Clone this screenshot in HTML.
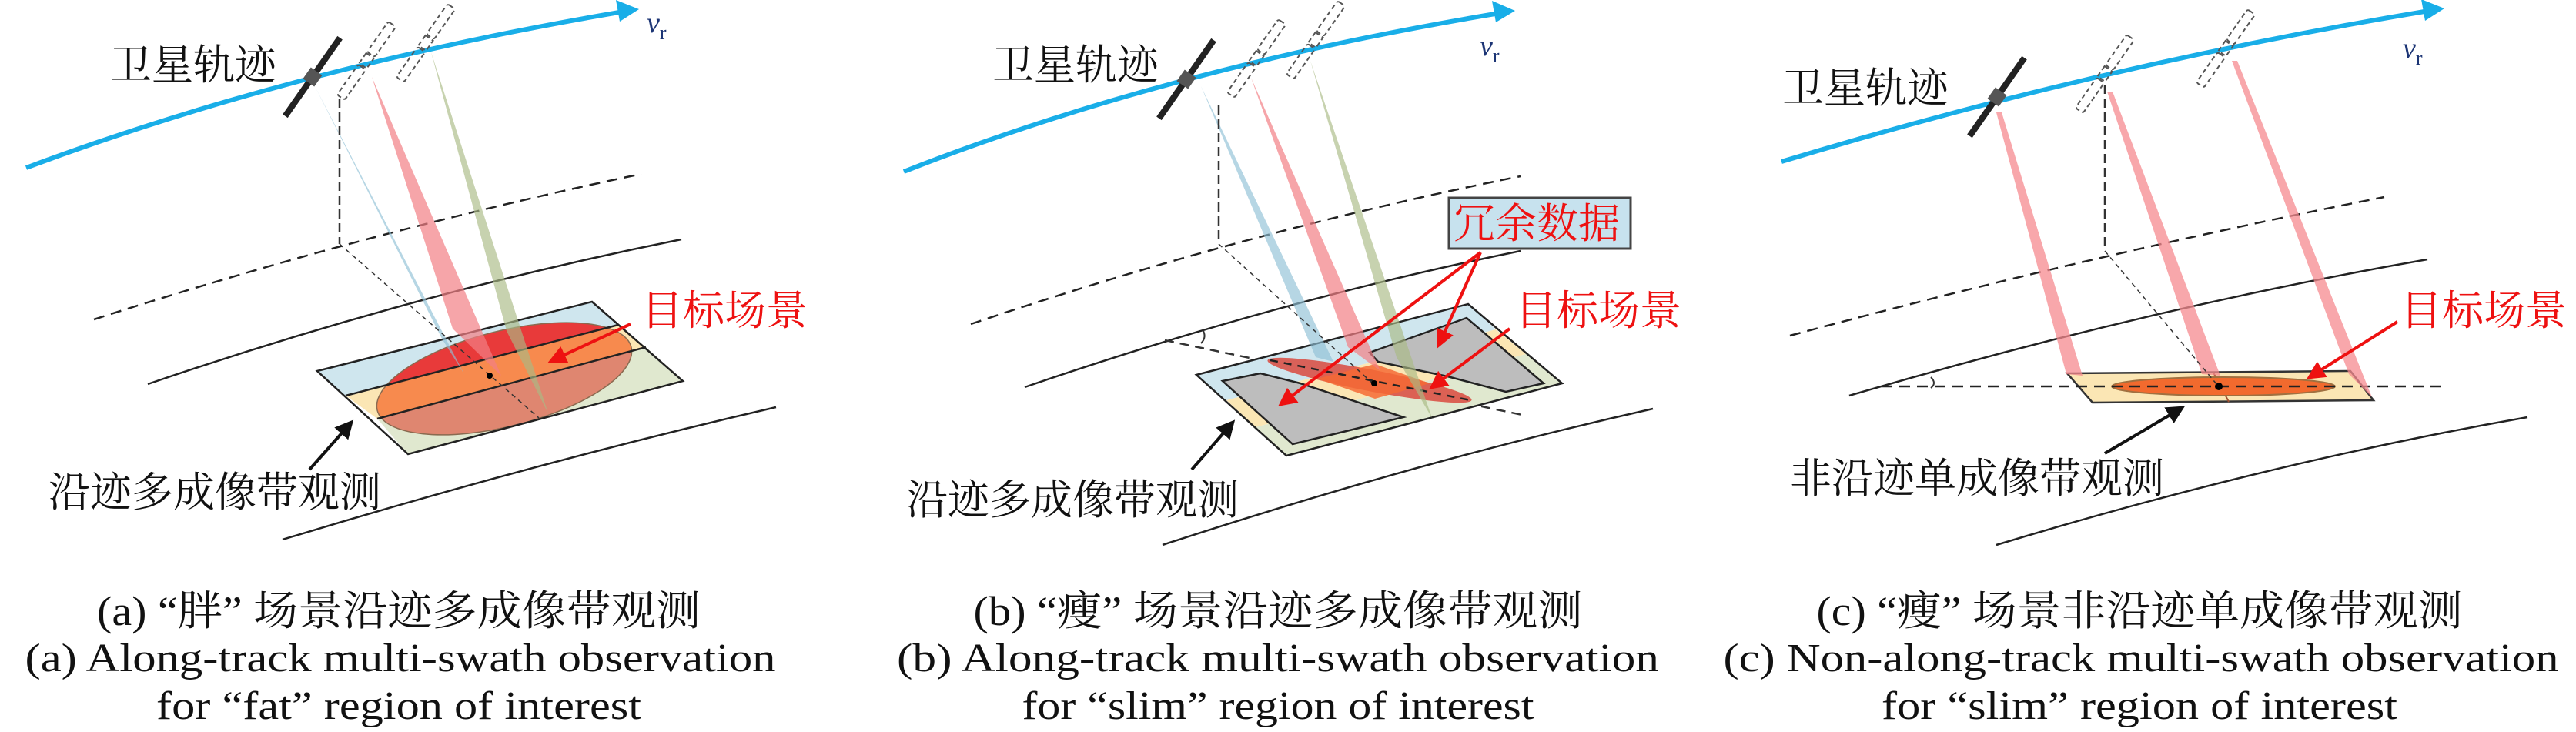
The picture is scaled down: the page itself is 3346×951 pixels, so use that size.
<!DOCTYPE html>
<html><head><meta charset="utf-8"><style>
html,body{margin:0;padding:0;background:#fff;}
svg{display:block;}
.cj{font-family:"Liberation Serif","Noto Serif CJK SC",serif;}
.en{font-family:"Liberation Serif",serif;}
</style></head><body>
<svg width="3346" height="951" viewBox="0 0 3346 951" xmlns="http://www.w3.org/2000/svg">
<defs>
<marker id="ar" viewBox="0 0 10 10" refX="8" refY="5" markerWidth="6" markerHeight="6" orient="auto"><path d="M0,0 L10,5 L0,10 z" fill="#ee1111"/></marker>
<marker id="ak" viewBox="0 0 10 10" refX="8" refY="5" markerWidth="6" markerHeight="6" orient="auto"><path d="M0,0 L10,5 L0,10 z" fill="#111"/></marker>
<clipPath id="ta"><polygon points="412,482 769,392 803,422 449,514"/></clipPath>
<clipPath id="ma"><polygon points="449,514 803,422 839,451 490,544"/></clipPath>
<clipPath id="ba"><polygon points="490,544 839,451 887,495 530,590"/></clipPath>
<g id="sat"><rect x="-4" y="-62" width="8" height="124" fill="#222"/><rect x="-9" y="-9" width="18" height="18" fill="#555"/></g>
<g id="dsat" fill="none" stroke="#555" stroke-width="2" stroke-dasharray="6,4"><rect x="-6" y="-58" width="12" height="48" rx="3"/><rect x="-6" y="10" width="12" height="48" rx="3"/><rect x="-6" y="-8" width="12" height="16"/></g>
</defs>

<!-- ============ PANEL A ============ -->
<g>
<path d="M122,415 Q480,300 833,226" fill="none" stroke="#222" stroke-width="2.5" stroke-dasharray="14,9"/>
<path d="M192,499 Q540,380 885,311" fill="none" stroke="#222" stroke-width="2.5"/>
<path d="M367,701 Q700,600 1008,529" fill="none" stroke="#222" stroke-width="2.5"/>
<polygon points="412,482 769,392 803,422 449,514" fill="#cfe6ee"/>
<polygon points="449,514 803,422 839,451 490,544" fill="#fbe6b4"/>
<polygon points="490,544 839,451 887,495 530,590" fill="#e0e8cf"/>
<g clip-path="url(#ta)"><ellipse cx="655" cy="492" rx="170" ry="62" transform="rotate(-14 655 492)" fill="#e83a3a"/></g>
<g clip-path="url(#ma)"><ellipse cx="655" cy="492" rx="170" ry="62" transform="rotate(-14 655 492)" fill="#f78a4e"/></g>
<g clip-path="url(#ba)"><ellipse cx="655" cy="492" rx="170" ry="62" transform="rotate(-14 655 492)" fill="#df8670"/></g>
<ellipse cx="655" cy="492" rx="170" ry="62" transform="rotate(-14 655 492)" fill="none" stroke="#8a6a50" stroke-width="1.5"/>
<polygon points="412,482 769,392 887,495 530,590" fill="none" stroke="#222" stroke-width="2.5"/>
<line x1="449" y1="514" x2="803" y2="422" stroke="#222" stroke-width="2.5"/>
<line x1="490" y1="544" x2="839" y2="451" stroke="#222" stroke-width="2.5"/>
<polygon points="410,114 574,440 603,486" fill="#8fc0d6" opacity="0.65"/>
<polygon points="483,100 588,427 651,488" fill="#f27f84" opacity="0.7"/>
<polygon points="560,68 658,430 712,537" fill="#a9ba84" opacity="0.65"/>
<line x1="441" y1="128" x2="441" y2="317" stroke="#333" stroke-width="2.5" stroke-dasharray="12,6"/>
<line x1="441" y1="317" x2="700" y2="543" stroke="#333" stroke-width="1.5" stroke-dasharray="6,5"/>
<circle cx="636" cy="488" r="4" fill="#000"/>
<path d="M34,218 Q384,87 810,15" fill="none" stroke="#19aee8" stroke-width="6"/>
<polygon points="830,12 800,0 805,28" fill="#19aee8"/>
<use href="#sat" transform="translate(406,100) rotate(35)"/>
<use href="#dsat" transform="translate(476,79) rotate(35)"/>
<use href="#dsat" transform="translate(553,56) rotate(35)"/>
<text x="840" y="42" class="en" font-size="38" font-style="italic" fill="#1c3575">v<tspan font-size="26" font-style="normal" dy="9">r</tspan></text>
<text x="143" y="103" class="cj" font-size="54" fill="#111">卫星轨迹</text>
<text x="833" y="422" class="cj" font-size="54" fill="#ee1111">目标场景</text>
<line x1="819" y1="421" x2="716" y2="469" stroke="#ee1111" stroke-width="4" marker-end="url(#ar)"/>
<text x="63" y="658" class="cj" font-size="54" fill="#111">沿迹多成像带观测</text>
<line x1="402" y1="610" x2="456" y2="549" stroke="#111" stroke-width="4" marker-end="url(#ak)"/>
</g>

<!-- ============ PANEL B ============ -->
<g>
<path d="M1261,421 Q1620,300 1975,229" fill="none" stroke="#222" stroke-width="2.5" stroke-dasharray="14,9"/>
<path d="M1331,503 Q1660,390 1975,326" fill="none" stroke="#222" stroke-width="2.5"/>
<path d="M1510,708 Q1840,600 2147,531" fill="none" stroke="#222" stroke-width="2.5"/>
<line x1="1513" y1="442" x2="1982" y2="540" stroke="#333" stroke-width="2.5" stroke-dasharray="12,8"/>
<path d="M1562,428 Q1568,438 1560,446" fill="none" stroke="#333" stroke-width="2"/>
<polygon points="1554,487 1907,395 1943,428 1593,520" fill="#cfe6ee"/>
<polygon points="1593,520 1943,428 1982,460 1631,555" fill="#fbe6b4"/>
<polygon points="1631,555 1982,460 2029,498 1671,592" fill="#e0e8cf"/>
<polygon points="1588,495 1637,485 1689,498 1823,542 1679,577" fill="#bdbdbd" stroke="#222" stroke-width="2.5"/>
<polygon points="1779,458 1905,413 2005,498 1956,509 1880,489 1790,470" fill="#bdbdbd" stroke="#222" stroke-width="2.5"/>
<polygon points="1711,492 1786,473 1857,498 1786,518" fill="#fbe6b4"/>
<ellipse cx="1779" cy="494" rx="135" ry="14" transform="rotate(11 1779 494)" fill="#d9493e" opacity="0.85"/>
<polygon points="1711,492 1786,473 1857,498 1786,518" fill="#f56a35" opacity="0.85"/>
<line x1="1650" y1="468" x2="1910" y2="520" stroke="#222" stroke-width="2.5" stroke-dasharray="10,8"/>
<polygon points="1554,487 1907,395 2029,498 1671,592" fill="none" stroke="#222" stroke-width="2.5"/>
<polygon points="1560,112 1709,464 1732,470" fill="#8fc0d6" opacity="0.65"/>
<polygon points="1625,101 1751,451 1793,482" fill="#f27f84" opacity="0.7"/>
<polygon points="1702,79 1814,464 1860,543" fill="#a9ba84" opacity="0.65"/>
<line x1="1583" y1="137" x2="1583" y2="317" stroke="#333" stroke-width="2.5" stroke-dasharray="12,6"/>
<line x1="1583" y1="317" x2="1783" y2="498" stroke="#333" stroke-width="1.5" stroke-dasharray="6,5"/>
<circle cx="1785" cy="498" r="4" fill="#000"/>
<path d="M1174,223 Q1514,89 1948,17" fill="none" stroke="#19aee8" stroke-width="6"/>
<polygon points="1968,14 1938,1 1943,29" fill="#19aee8"/>
<use href="#sat" transform="translate(1541,103) rotate(35)"/>
<use href="#dsat" transform="translate(1632,76) rotate(35)"/>
<use href="#dsat" transform="translate(1709,52) rotate(35)"/>
<text x="1922" y="72" class="en" font-size="38" font-style="italic" fill="#1c3575">v<tspan font-size="26" font-style="normal" dy="9">r</tspan></text>
<text x="1289" y="103" class="cj" font-size="54" fill="#111">卫星轨迹</text>
<rect x="1882" y="257" width="236" height="66" fill="#c7e2ee" stroke="#444" stroke-width="3"/>
<text x="1888" y="309" class="cj" font-size="54" fill="#ee1111">冗余数据</text>
<text x="1968" y="422" class="cj" font-size="54" fill="#ee1111">目标场景</text>
<line x1="1923" y1="328" x2="1664" y2="525" stroke="#ee1111" stroke-width="4" marker-end="url(#ar)"/>
<line x1="1923" y1="328" x2="1869" y2="448" stroke="#ee1111" stroke-width="4" marker-end="url(#ar)"/>
<line x1="1961" y1="427" x2="1860" y2="503" stroke="#ee1111" stroke-width="4" marker-end="url(#ar)"/>
<text x="1177" y="668" class="cj" font-size="54" fill="#111">沿迹多成像带观测</text>
<line x1="1548" y1="610" x2="1601" y2="549" stroke="#111" stroke-width="4" marker-end="url(#ak)"/>
</g>

<!-- ============ PANEL C ============ -->
<g>
<path d="M2325,436 Q2720,330 3097,256" fill="none" stroke="#222" stroke-width="2.5" stroke-dasharray="14,9"/>
<path d="M2402,514 Q2790,400 3153,337" fill="none" stroke="#222" stroke-width="2.5"/>
<path d="M2593,708 Q2950,600 3283,542" fill="none" stroke="#222" stroke-width="2.5"/>
<path d="M2508,490 Q2516,498 2508,504" fill="none" stroke="#333" stroke-width="2"/>
<polygon points="2685,485 3053,482 3083,520 2718,523" fill="#fbe6b4" stroke="#333" stroke-width="2.5"/>
<line x1="2875" y1="484" x2="2895" y2="522" stroke="#a05030" stroke-width="2"/>
<ellipse cx="2888" cy="502" rx="145" ry="12" fill="#f26a2e" stroke="#a07040" stroke-width="2"/>
<line x1="2444" y1="502" x2="3171" y2="502" stroke="#222" stroke-width="2.5" stroke-dasharray="14,9"/>
<circle cx="2882" cy="502" r="5" fill="#000"/>
<polygon points="2593,146 2684,486 2705,488 2600,146" fill="#f58a8f" opacity="0.75"/>
<polygon points="2737,119 2860,486 2884,488 2744,119" fill="#f58a8f" opacity="0.75"/>
<polygon points="2899,79 3051,486 3081,516 2906,79" fill="#f58a8f" opacity="0.75"/>
<line x1="2734" y1="110" x2="2734" y2="326" stroke="#333" stroke-width="2.5" stroke-dasharray="12,6"/>
<line x1="2734" y1="326" x2="2880" y2="500" stroke="#333" stroke-width="1.5" stroke-dasharray="6,5"/>
<path d="M2314,210 Q2727,85 3155,14" fill="none" stroke="#19aee8" stroke-width="6"/>
<polygon points="3175,11 3145,-1 3150,27" fill="#19aee8"/>
<use href="#sat" transform="translate(2594,126) rotate(35)"/>
<use href="#dsat" transform="translate(2734,96) rotate(35)"/>
<use href="#dsat" transform="translate(2891,63) rotate(35)"/>
<text x="3121" y="75" class="en" font-size="38" font-style="italic" fill="#1c3575">v<tspan font-size="26" font-style="normal" dy="9">r</tspan></text>
<text x="2315" y="133" class="cj" font-size="54" fill="#111">卫星轨迹</text>
<text x="3118" y="422" class="cj" font-size="54" fill="#ee1111">目标场景</text>
<line x1="3114" y1="418" x2="3000" y2="490" stroke="#ee1111" stroke-width="4" marker-end="url(#ar)"/>
<text x="2325" y="640" class="cj" font-size="54" fill="#111">非沿迹单成像带观测</text>
<line x1="2734" y1="589" x2="2834" y2="530" stroke="#111" stroke-width="4" marker-end="url(#ak)"/>
</g>

<g class="cj" font-size="54" fill="#111" text-anchor="middle">
<text x="518" y="812" textLength="784" lengthAdjust="spacingAndGlyphs">(a) “胖” 场景沿迹多成像带观测</text>
<text x="1660" y="812" textLength="791" lengthAdjust="spacingAndGlyphs">(b) “瘦” 场景沿迹多成像带观测</text>
<text x="2779" y="812" textLength="839" lengthAdjust="spacingAndGlyphs">(c) “瘦” 场景非沿迹单成像带观测</text>
</g>
<g class="en" font-size="52" fill="#111" text-anchor="middle">
<text x="520" y="872" textLength="975" lengthAdjust="spacingAndGlyphs">(a) Along-track multi-swath observation</text>
<text x="518" y="934" textLength="630" lengthAdjust="spacingAndGlyphs">for “fat” region of interest</text>
<text x="1660" y="872" textLength="990" lengthAdjust="spacingAndGlyphs">(b) Along-track multi-swath observation</text>
<text x="1660" y="934" textLength="665" lengthAdjust="spacingAndGlyphs">for “slim” region of interest</text>
<text x="2781" y="872" textLength="1085" lengthAdjust="spacingAndGlyphs">(c) Non-along-track multi-swath observation</text>
<text x="2779" y="934" textLength="670" lengthAdjust="spacingAndGlyphs">for “slim” region of interest</text>
</g>
</svg>
</body></html>
